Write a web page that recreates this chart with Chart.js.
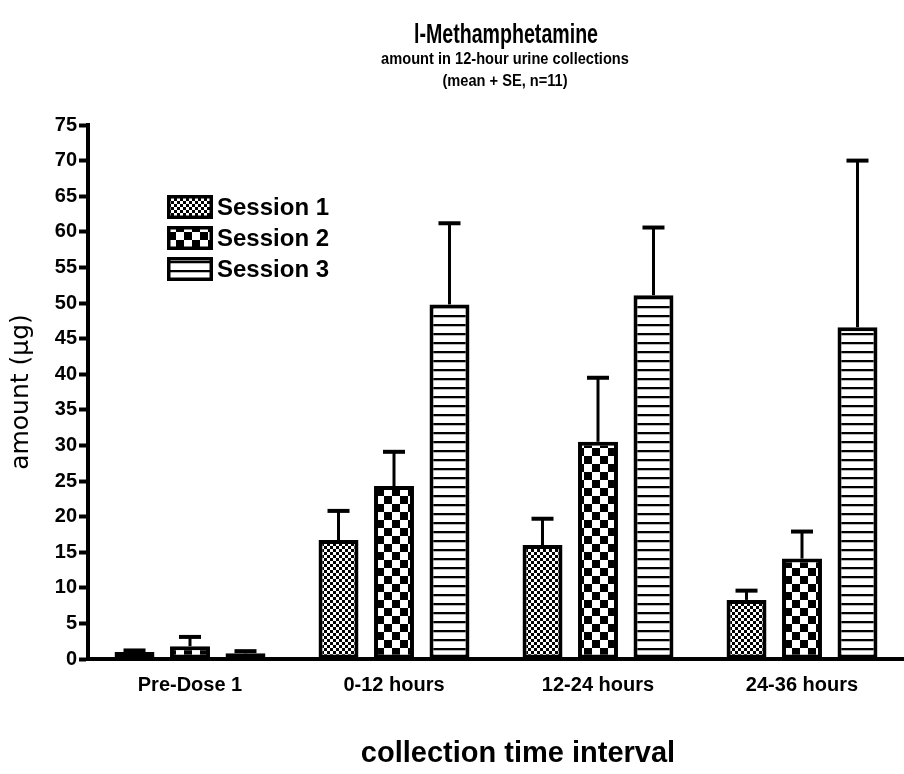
<!DOCTYPE html>
<html>
<head>
<meta charset="utf-8">
<script src="https://cdn.jsdelivr.net/npm/chart.js@4.4.1/dist/chart.umd.min.js"></script>
<style>
  html, body { margin: 0; padding: 0; background: #fff; }
  #wrap { width: 904px; height: 774px; position: relative; }
</style>
</head>
<body>
<div id="wrap"><canvas id="c"></canvas></div>
<script>
// ---- data ----
const categories = ['Pre-Dose 1', '0-12 hours', '12-24 hours', '24-36 hours'];
const seriesNames = ['Session 1', 'Session 2', 'Session 3'];
const session1Mean = [1.0, 16.7, 16.0, 8.3];
const session1SE   = [0.2, 4.1, 3.7, 1.3];
const session2Mean = [1.8, 24.3, 30.5, 14.1];
const session2SE   = [1.3, 4.8, 9.0, 3.8];
const session3Mean = [0.8, 49.8, 51.1, 46.6];
const session3SE   = [0.3, 11.4, 9.5, 23.4];
const yTicks = [0, 5, 10, 15, 20, 25, 30, 35, 40, 45, 50, 55, 60, 65, 70, 75];

const titleText = 'l-Methamphetamine';
const subtitleLines = ['amount in 12-hour urine collections', '(mean + SE, n=11)'];
const yTitle = 'amount (\u00b5g)';
const xTitle = 'collection time interval';

// ---- patterns ----
function makePattern(w, h, draw) {
  const c = document.createElement('canvas');
  c.width = w; c.height = h;
  const g = c.getContext('2d');
  g.fillStyle = '#fff'; g.fillRect(0, 0, w, h);
  draw(g);
  return document.createElement('canvas').getContext('2d').createPattern(c, 'repeat');
}
const pat1 = makePattern(6, 6, g => {
  g.fillStyle = '#000';
  g.fillRect(0, 0, 3, 3); g.fillRect(3, 3, 3, 3);
});
const pat2 = makePattern(16, 16, g => {
  g.fillStyle = '#000';
  g.fillRect(0, 0, 8, 8); g.fillRect(8, 8, 8, 8);
});
const pat3 = makePattern(8, 9, g => {
  g.fillStyle = '#000'; g.fillRect(0, 0, 8, 2);
  g.fillStyle = '#bbb'; g.fillRect(0, 2, 8, 1);
});
const patterns = [pat1, pat2, pat3];
const means = [session1Mean, session2Mean, session3Mean];
const ses = [session1SE, session2SE, session3SE];

const FONT = "'Liberation Sans', Arial, sans-serif";
Chart.defaults.font.family = FONT;
Chart.defaults.color = '#000';

// error bars (mean + SE), drawn through the y scale
const errorBars = {
  id: 'errorBars',
  afterDatasetsDraw(chart) {
    const ctx = chart.ctx, y = chart.scales.y;
    ctx.save();
    ctx.strokeStyle = '#000';
    chart.data.datasets.forEach((ds, i) => {
      const meta = chart.getDatasetMeta(i);
      meta.data.forEach((el, j) => {
        const top = y.getPixelForValue(ds.data[j] + ds.se[j]);
        ctx.lineWidth = 3;
        ctx.beginPath(); ctx.moveTo(el.x, el.y); ctx.lineTo(el.x, top); ctx.stroke();
        ctx.lineWidth = 4;
        ctx.beginPath(); ctx.moveTo(el.x - 11, top); ctx.lineTo(el.x + 11, top); ctx.stroke();
      });
    });
    ctx.restore();
  }
};

// legend inside the plot area
const insideLegend = {
  id: 'insideLegend',
  afterDraw(chart) {
    const ctx = chart.ctx;
    ctx.save();
    chart.data.datasets.forEach((ds, i) => {
      const bx = 167, by = 195 + i * 31, bw = 46, bh = 24;
      ctx.fillStyle = ds.backgroundColor;
      ctx.fillRect(bx, by, bw, bh);
      ctx.lineWidth = 3.5; ctx.strokeStyle = '#000';
      ctx.strokeRect(bx + 1.75, by + 1.75, bw - 3.5, bh - 3.5);
      ctx.fillStyle = '#000';
      ctx.font = 'bold 24px ' + FONT;
      ctx.textBaseline = 'middle';
      ctx.textAlign = 'left';
      ctx.fillText(ds.label, bx + bw + 4, by + bh / 2 + 1);
    });
    ctx.restore();
  }
};

// titles (condensed headline text, and the x-axis caption)
function narrowText(ctx, text, x, y, font, sx) {
  ctx.save();
  ctx.font = font;
  ctx.textAlign = 'center';
  ctx.textBaseline = 'alphabetic';
  ctx.fillStyle = '#000';
  ctx.translate(x, y);
  ctx.scale(sx, 1);
  ctx.fillText(text, 0, 0);
  ctx.restore();
}
const titles = {
  id: 'titles',
  afterDraw(chart) {
    const ctx = chart.ctx;
    narrowText(ctx, titleText, 506, 43, 'bold 28px ' + FONT, 0.7);
    subtitleLines.forEach((t, i) => narrowText(ctx, t, 505, 64 + i * 22, 'bold 17px ' + FONT, 0.86));
    narrowText(ctx, xTitle, 518, 762, 'bold 29px ' + FONT, 1);
  }
};

new Chart(document.getElementById('c'), {
  type: 'bar',
  data: {
    labels: categories,
    datasets: seriesNames.map((name, i) => ({
      label: name,
      data: means[i],
      se: ses[i],
      backgroundColor: patterns[i],
      borderColor: '#000',
      borderWidth: 4,
      borderSkipped: false,
      categoryPercentage: 0.816,
      barPercentage: 0.72
    }))
  },
  options: {
    responsive: true,
    maintainAspectRatio: false,
    animation: false,
    events: [],
    layout: { padding: { left: 0, right: 0, top: 125, bottom: 0 } },
    plugins: {
      legend: { display: false },
      tooltip: { enabled: false }
    },
    scales: {
      x: {
        grid: { display: false, drawTicks: false },
        border: { display: true, color: '#000', width: 4 },
        ticks: { font: { size: 20, weight: 'bold' }, padding: 14, color: '#000', maxRotation: 0 },
        afterFit(s) { s.height = 115; }
      },
      y: {
        min: 0, max: 75,
        afterBuildTicks(s) { s.ticks = yTicks.map(v => ({ value: v })); },
        grid: { display: true, drawOnChartArea: false, drawTicks: true, tickLength: 9, tickWidth: 4, tickColor: '#000' },
        border: { display: true, color: '#000', width: 4 },
        ticks: { font: { size: 20, weight: 'bold' }, padding: 2, color: '#000' },
        title: {
          display: true, text: yTitle, color: '#000',
          font: { family: "'DejaVu Sans', Verdana, sans-serif", size: 25, weight: 'normal', lineHeight: 1.2 },
          padding: { top: 6, bottom: 0 }
        },
        afterFit(s) { s.width = 88; }
      }
    }
  },
  plugins: [errorBars, insideLegend, titles]
});
</script>
</body>
</html>
